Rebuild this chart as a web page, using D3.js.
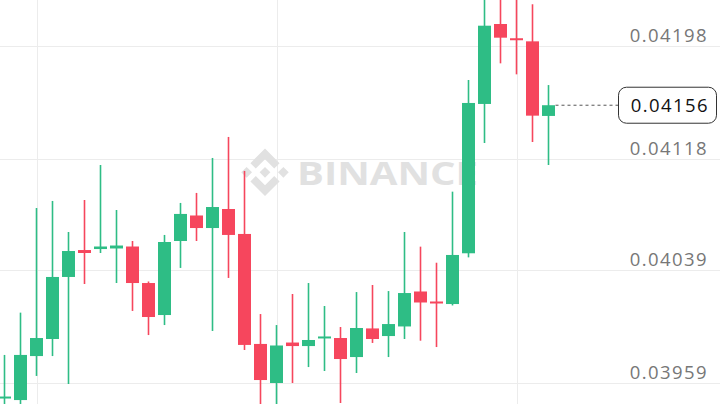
<!DOCTYPE html>
<html><head><meta charset="utf-8">
<script src="https://cdn.jsdelivr.net/npm/d3@7"></script>
<style>html,body{margin:0;padding:0;background:#fff;overflow:hidden}</style>
</head><body><svg id="c" width="720" height="404"></svg>
<script>
const opens  = [0.039487,0.039469,0.039781,0.039902,0.040342,0.040533,0.040540,0.040544,0.040558,0.040299,0.040072,0.040597,0.040778,0.040689,0.040824,0.040647,0.039867,0.039590,0.039877,0.039852,0.039909,0.039909,0.039774,0.039977,0.039923,0.039991,0.040239,0.040168,0.040150,0.040510,0.041569,0.042136,0.042035,0.042013,0.041484];
const highs  = [0.039789,0.040089,0.040831,0.040881,0.040661,0.040888,0.041136,0.040817,0.040597,0.040310,0.040640,0.040867,0.040938,0.041186,0.041335,0.041094,0.040079,0.040001,0.040221,0.040299,0.040136,0.039987,0.040235,0.040285,0.040242,0.040661,0.040557,0.040443,0.040947,0.041739,0.042363,0.042349,0.042335,0.042276,0.041703];
const lows   = [0.039384,0.039399,0.039640,0.039781,0.039583,0.040292,0.040512,0.040299,0.040101,0.039930,0.040001,0.040406,0.040597,0.039959,0.040335,0.039824,0.039399,0.039399,0.039590,0.039703,0.039675,0.039448,0.039661,0.039874,0.039774,0.039902,0.039890,0.039845,0.040140,0.040481,0.041292,0.041857,0.041779,0.041299,0.041136];
const closes = [0.039494,0.039789,0.039909,0.040342,0.040526,0.040512,0.040558,0.040565,0.040299,0.040058,0.040590,0.040789,0.040689,0.040838,0.040640,0.039860,0.039611,0.039856,0.039852,0.039895,0.039920,0.039760,0.039980,0.039902,0.040008,0.040228,0.040161,0.040154,0.040498,0.041576,0.042124,0.042039,0.042023,0.041486,0.041560];
const tickValues = [0.03959, 0.04039, 0.04118, 0.04198];
const tickLabels = ["0.03959", "0.04039", "0.04118", "0.04198"];
const lastPrice = 0.04156;
const lastLabel = "0.04156";
const gridCandles = [2, 17, 32];
const watermark = "BINANCE";

const W = 720, H = 404;
const svg = d3.select("#c");
const n = opens.length;
const x = d3.scaleLinear().domain([0, n - 1]).range([4.5, 548.5]);
const y = d3.scaleLinear().domain([0.03959, 0.04198]).range([383, 46]);
const up = "#2ebd85", down = "#f6465d";
const data = d3.range(n).map(i => ({i, o: opens[i], h: highs[i], l: lows[i], c: closes[i]}));

// grid
const grid = svg.append("g");
grid.selectAll("line.h").data(tickValues).join("line")
  .attr("x1", 0).attr("x2", W)
  .attr("y1", d => Math.round(y(d)) + 0.5).attr("y2", d => Math.round(y(d)) + 0.5)
  .attr("stroke", "#ececec").attr("stroke-width", 1);
grid.selectAll("line.v").data(gridCandles).join("line")
  .attr("y1", 0).attr("y2", H)
  .attr("x1", d => Math.round(x(d)) + 0.5).attr("x2", d => Math.round(x(d)) + 0.5)
  .attr("stroke", "#ececec").attr("stroke-width", 1);

// watermark
const wm = svg.append("g").attr("fill", "#e1e1e1");
const logoS = 0.375, lcx = 265, lcy = 172.3;
const polys = [
  [[38.73,53.2],[63.3,28.64],[87.89,53.22],[102.19,38.92],[63.3,0],[24.42,38.9]],
  [[0,63.31],[14.3,49.01],[28.6,63.31],[14.3,77.61]],
  [[49.0,63.3],[63.3,49.0],[77.6,63.3],[63.3,77.6]],
  [[97.99,63.31],[112.29,49.01],[126.59,63.31],[112.29,77.61]],
  [[87.89,73.41],[63.3,98],[38.73,73.41],[24.41,87.71],[63.3,126.61],[102.18,87.73]]
];
wm.selectAll("path").data(polys).join("path")
  .attr("d", p => "M" + p.map(q => [(lcx + (q[0]-63.3)*logoS).toFixed(2), (lcy + (q[1]-63.3)*logoS).toFixed(2)].join(",")).join("L") + "Z");
wm.append("text").attr("x", 297).attr("y", 185)
  .attr("font-family", "'Open Sans', sans-serif").attr("font-weight", 700).attr("font-size", 32.5)
  .attr("textLength", 181).attr("lengthAdjust", "spacingAndGlyphs")
  .text(watermark);

// candles
const cg = svg.append("g");
cg.selectAll("line.w").data(data).join("line")
  .attr("x1", d => x(d.i)).attr("x2", d => x(d.i))
  .attr("y1", d => y(d.h)).attr("y2", d => y(d.l))
  .attr("stroke", d => d.c >= d.o ? up : down).attr("stroke-width", 1.6);
cg.selectAll("rect").data(data).join("rect")
  .attr("x", d => x(d.i) - 6.5).attr("width", 13)
  .attr("y", d => y(Math.max(d.o, d.c)))
  .attr("height", d => Math.max(2, Math.abs(y(d.o) - y(d.c))))
  .attr("fill", d => d.c >= d.o ? up : down);

// axis labels
const ax = svg.append("g");
ax.selectAll("text").data(tickValues).join("text")
  .attr("x", 708).attr("y", d => Math.round(y(d)) - 4)
  .attr("text-anchor", "end")
  .attr("font-family", "'Open Sans', sans-serif").attr("font-size", 18.5)
  .attr("letter-spacing", 1.4)
  .attr("fill", "#777")
  .text((d, i) => tickLabels[i]);

// last price
const ly = y(lastPrice);
svg.append("line").attr("x1", x(n - 1) + 7).attr("x2", 618).attr("y1", ly).attr("y2", ly)
  .attr("stroke", "#555").attr("stroke-width", 1).attr("stroke-dasharray", "3,3");
svg.append("rect").attr("x", 618.5).attr("y", ly - 18).attr("width", 98).attr("height", 36)
  .attr("rx", 8).attr("fill", "#fff").attr("stroke", "#333").attr("stroke-width", 1);
svg.append("text").attr("x", 709).attr("y", ly + 7)
  .attr("text-anchor", "end")
  .attr("font-family", "'Open Sans', sans-serif").attr("font-size", 18.5)
  .attr("letter-spacing", 1.4)
  .attr("fill", "#111").text(lastLabel);
</script></body></html>
